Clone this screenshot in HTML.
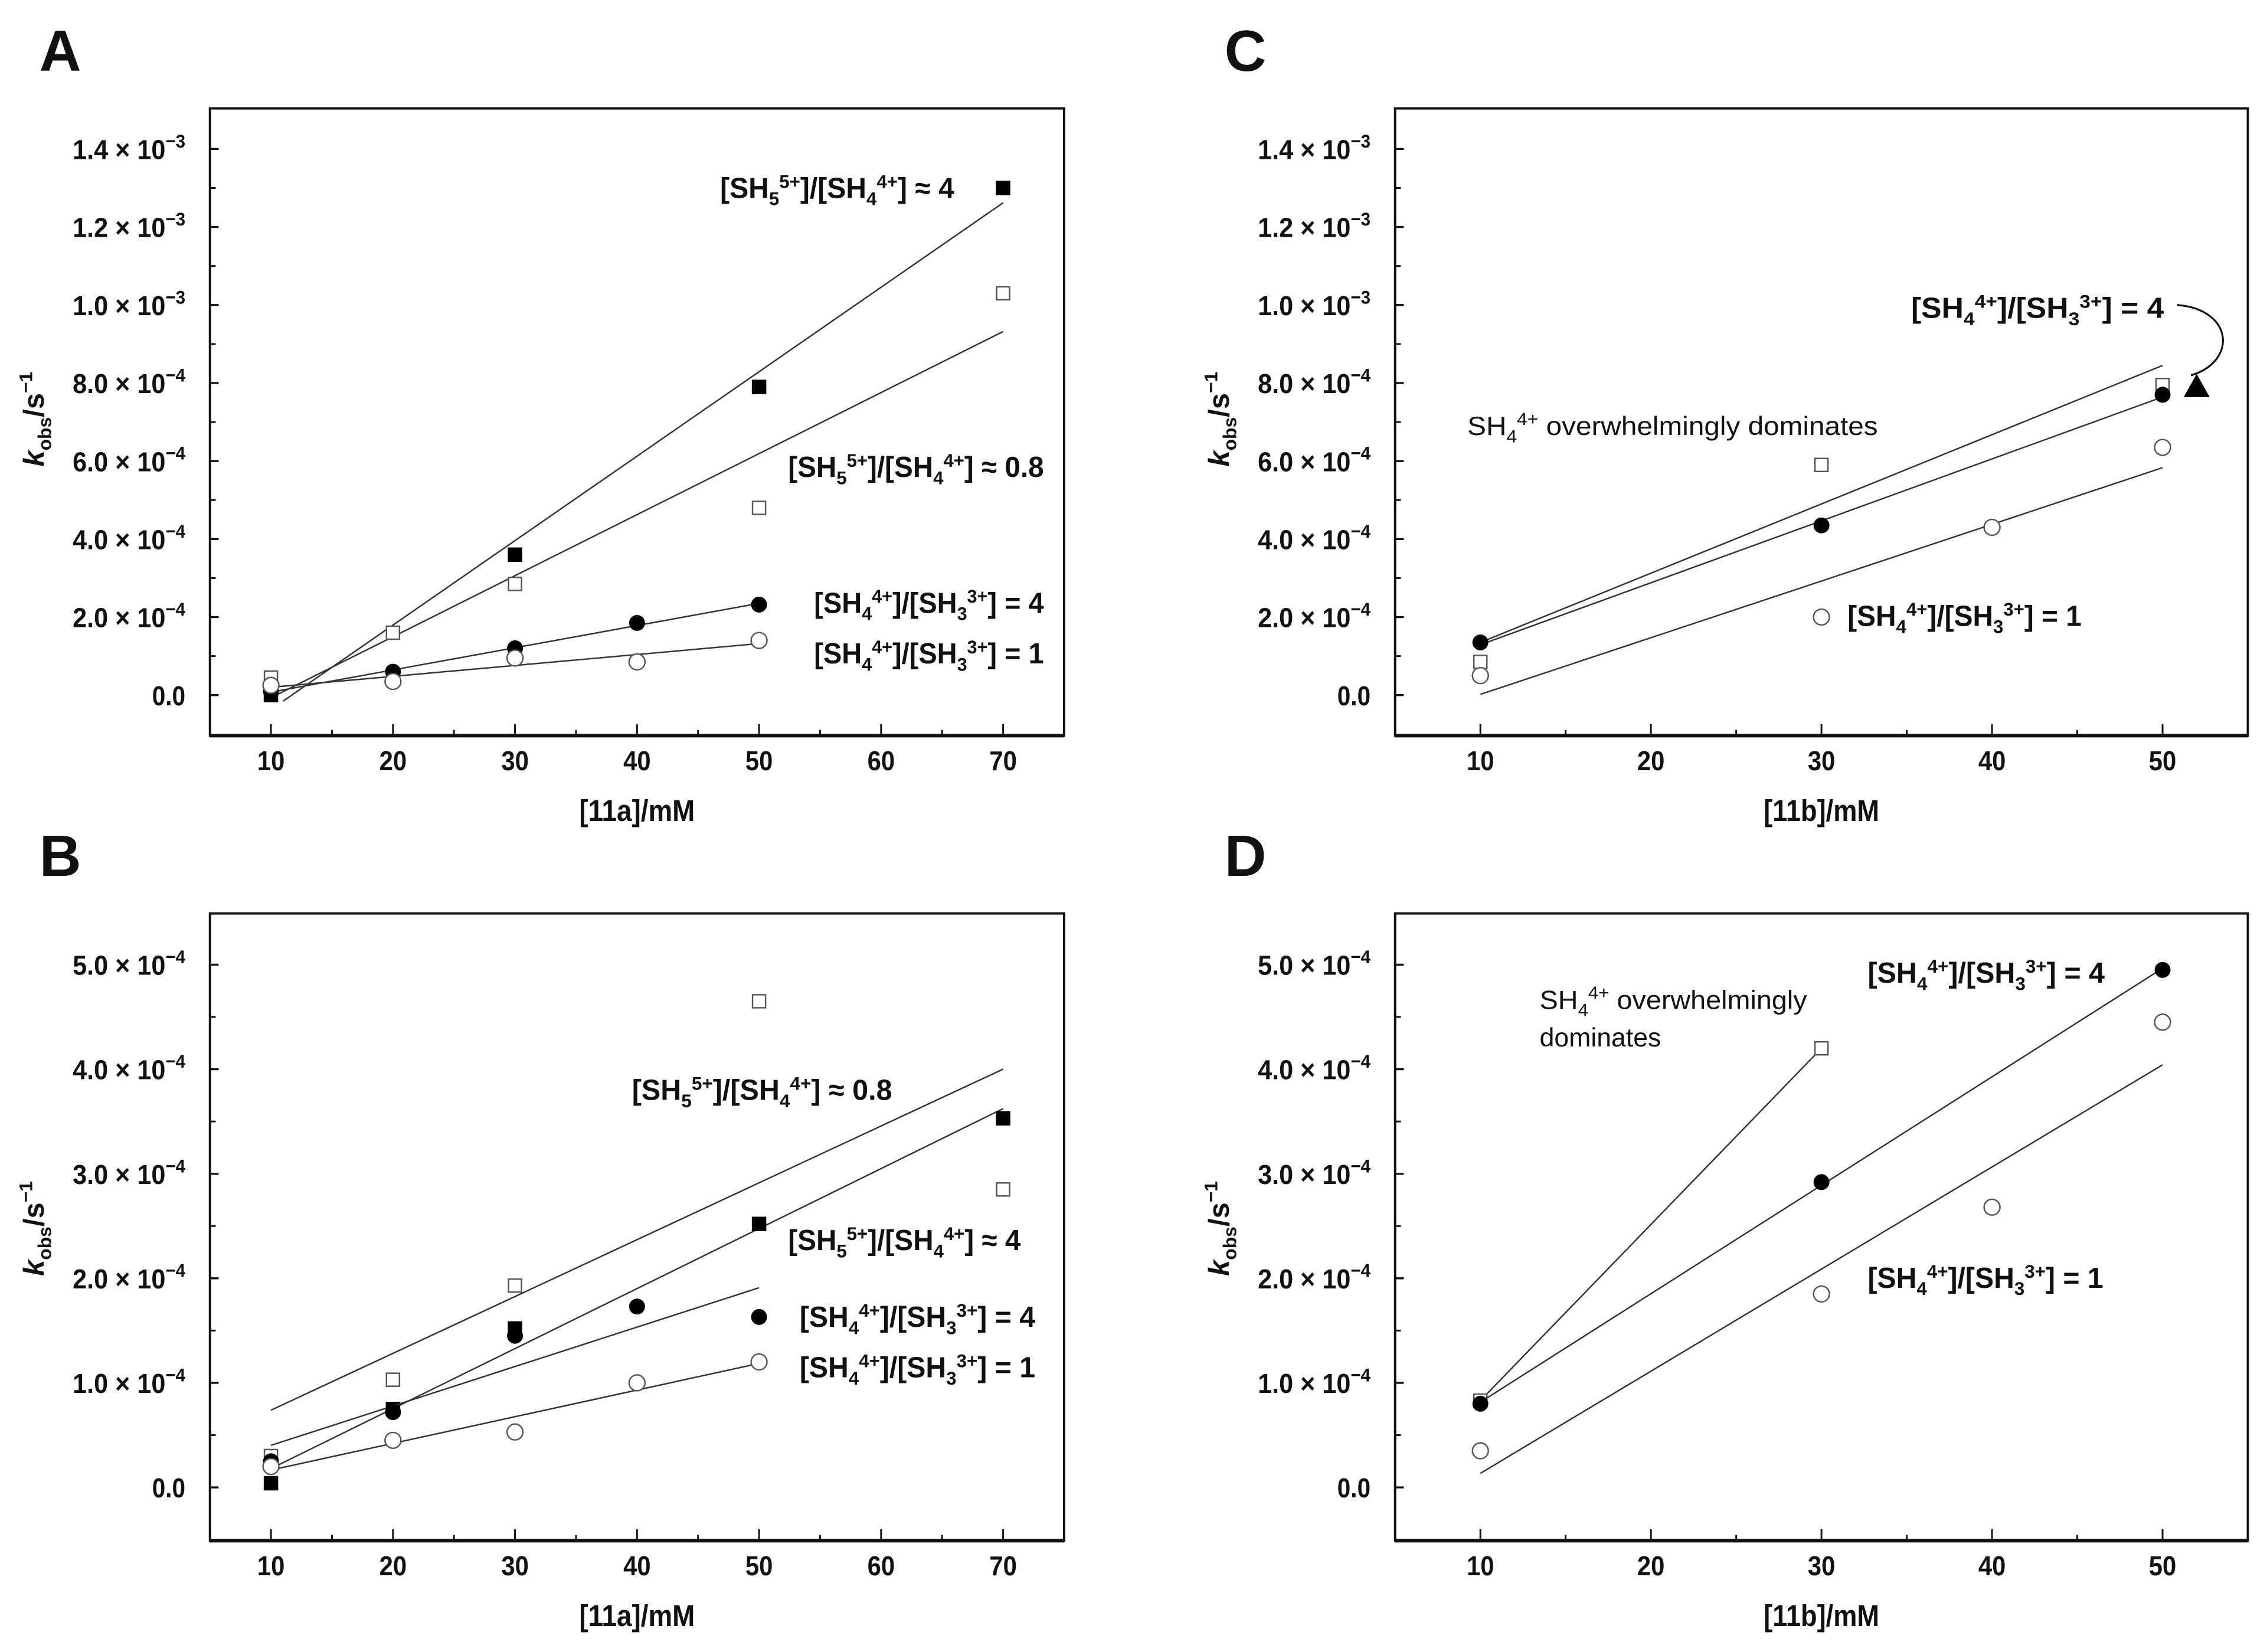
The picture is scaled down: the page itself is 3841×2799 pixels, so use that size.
<!DOCTYPE html>
<html><head><meta charset="utf-8"><style>
html,body{margin:0;padding:0;background:#fff}
svg{display:block}
text{font-family:"Liberation Sans",sans-serif;fill:#111}
</style></head><body>
<svg id="fig" width="3841" height="2799" viewBox="0 0 1568 1143" xmlns="http://www.w3.org/2000/svg"></svg>
<script>
// ---- data (values in units of 1e-4 s^-1) ----
const aFilledSqX = [10,30,50,70];          const aFilledSqY = [0.0,3.6,7.9,13.0];
const aOpenSqX   = [10,20,30,50,70];       const aOpenSqY   = [0.45,1.6,2.85,4.8,10.3];
const aFilledCiX = [10,20,30,40,50];       const aFilledCiY = [0.1,0.6,1.2,1.85,2.32];
const aOpenCiX   = [10,20,30,40,50];       const aOpenCiY   = [0.25,0.35,0.95,0.85,1.4];

const bOpenSqX   = [10,20,30,50,70];       const bOpenSqY   = [0.3,1.03,1.93,4.65,2.85];
const bFilledSqX = [10,20,30,50,70];       const bFilledSqY = [0.04,0.75,1.52,2.52,3.53];
const bFilledCiX = [10,20,30,40,50];       const bFilledCiY = [0.25,0.72,1.45,1.73,1.63];
const bOpenCiX   = [10,20,30,40,50];       const bOpenCiY   = [0.2,0.45,0.53,1.0,1.2];

const cOpenSqX   = [10,30,50];             const cOpenSqY   = [0.85,5.9,7.95];
const cFilledCiX = [10,30,50];             const cFilledCiY = [1.35,4.35,7.7];
const cOpenCiX   = [10,30,40,50];          const cOpenCiY   = [0.5,2.0,4.3,6.35];
const cTriX = [52];                        const cTriY = [7.9];

const dOpenSqX   = [10,30];                const dOpenSqY   = [0.83,4.2];
const dFilledCiX = [10,30,50];             const dFilledCiY = [0.8,2.92,4.95];
const dOpenCiX   = [10,30,40,50];          const dOpenCiY   = [0.35,1.85,2.68,4.45];

const xTicksA = [10,20,30,40,50,60,70];
const xTicksC = [10,20,30,40,50];
const yTicksA = [0,2,4,6,8,10,12,14];
const yTickLabA = ["0.0","2.0 × 10","4.0 × 10","6.0 × 10","8.0 × 10","1.0 × 10","1.2 × 10","1.4 × 10"];
const yTickExpA = ["","−4","−4","−4","−4","−3","−3","−3"];
const yTicksB = [0,1,2,3,4,5];
const yTickLabB = ["0.0","1.0 × 10","2.0 × 10","3.0 × 10","4.0 × 10","5.0 × 10"];
const yTickExpB = ["","−4","−4","−4","−4","−4"];

const NS="http://www.w3.org/2000/svg";
const svg=document.getElementById('fig');
function mk(tag,attrs,parent){const e=document.createElementNS(NS,tag);for(const k in attrs)e.setAttribute(k,attrs[k]);(parent||svg).appendChild(e);return e;}

function makePanel(o){
  const g=mk('g',{});
  
  
  const sx=v=>o.L+(v-o.x0)/(o.x1-o.x0)*(o.R-o.L);
  const sy=v=>o.B-(v-o.y0)/(o.y1-o.y0)*(o.B-o.T);
  const fr=mk('rect',{x:o.L,y:o.T,width:o.R-o.L,height:o.B-o.T,fill:'none',stroke:'#111','stroke-width':1.6},g);
  
  mk('line',{x1:o.L,x2:o.R,y1:o.B,y2:o.B,stroke:'#111','stroke-width':2.4},g);
  for(let v=o.x0;v<=o.x1+1e-9;v+=5){
    const major=o.xt.includes(v);
    mk('line',{x1:sx(v),x2:sx(v),y1:o.B,y2:o.B-(major?8:4),stroke:'#111','stroke-width':1.2},g);
  }
  o.xt.forEach(v=>{const t=mk('text',{x:sx(v),y:o.B+24,'text-anchor':'middle','font-size':19,'font-weight':'bold',textLength:19,lengthAdjust:'spacingAndGlyphs'},g);t.textContent=v;
    });
  for(let i=0;i<o.yt.length;i++){
    const v=o.yt[i];
    mk('line',{x1:o.L,x2:o.L+6,y1:sy(v),y2:sy(v),stroke:'#111','stroke-width':1.4},g);
    if(i<o.yt.length-1){const m=(v+o.yt[i+1])/2;mk('line',{x1:o.L,x2:o.L+4,y1:sy(m),y2:sy(m),stroke:'#111','stroke-width':1.2},g);}
    const at={x:o.L-17,y:sy(v)+7,'text-anchor':'end','font-size':19,'font-weight':'bold'};
    if(o.ye[i]){at.x=o.L-95;at['text-anchor']='start';at.textLength=78;at.lengthAdjust='spacingAndGlyphs';}
    else {at.textLength=23;at.lengthAdjust='spacingAndGlyphs';}
    const t=mk('text',at,g);
    
    const a=mk('tspan',{},t);a.textContent=o.yl[i];
    if(o.ye[i]){const b=mk('tspan',{dy:-8,'font-size':13},t);b.textContent=o.ye[i];}
  }
  const xt=mk('text',{x:(o.L+o.R)/2,y:o.B+59,'text-anchor':'middle','font-size':21,'font-weight':'bold',textLength:80,lengthAdjust:'spacingAndGlyphs'},g);
  xt.textContent=o.xlabel;
  const yc=o.ytitleY, yx=o.L-115;
  const yt=mk('text',{x:0,y:0,'text-anchor':'middle','font-size':20,'font-weight':'bold',transform:`translate(${yx},${yc}) rotate(-90)`},g);
  
  let s=mk('tspan',{'font-style':'italic'},yt);s.textContent='k';
  s=mk('tspan',{dy:5,'font-size':13},yt);s.textContent='obs';
  s=mk('tspan',{dy:-5},yt);s.textContent='/s';
  s=mk('tspan',{dy:-8,'font-size':13},yt);s.textContent='−1';
  const pl=mk('text',{x:o.L-118,y:o.T-26,'font-size':40,'font-weight':'bold'},g);pl.textContent=o.id;
  
  o.series.forEach(se=>{
    const X=se.x,Y=se.y,n=X.length;
    const mx=X.reduce((a,b)=>a+b)/n,my=Y.reduce((a,b)=>a+b)/n;
    let sxy=0,sxx=0;for(let i=0;i<n;i++){sxy+=(X[i]-mx)*(Y[i]-my);sxx+=(X[i]-mx)**2;}
    const k=sxy/sxx,c=my-k*mx;
    const xa=se.fitFrom!==undefined?se.fitFrom:Math.min(...X),xb=Math.max(...X);
    const ln=mk('line',{x1:sx(xa),y1:sy(k*xa+c),x2:sx(xb),y2:sy(k*xb+c),stroke:'#333','stroke-width':1},g);
    
    for(let i=0;i<n;i++){
      const px=sx(X[i]),py=sy(Y[i]);let m;
      if(se.shape==='sq') m=mk('rect',{x:px-4.5,y:py-4.5,width:9,height:9,fill:se.fill?'#000':'#fff',stroke:se.fill?'#000':'#555','stroke-width':1},g);
      else m=mk('circle',{cx:px,cy:py,r:se.fill?5:5.5,fill:se.fill?'#000':'#fff',stroke:se.fill?'#000':'#555','stroke-width':1},g);
      
    }
  });
  return {g,sx,sy};
}

function ratioLabel(g,x,y,a,sa,b,sb,tail,w){
  const t=mk('text',{x:x,y:y,'font-size':20,'font-weight':'bold',textLength:w,lengthAdjust:'spacingAndGlyphs'},g);
  
  const p=(txt,at)=>{const s=mk('tspan',at||{},t);s.textContent=txt;};
  p('[SH');p(a,{dy:5,'font-size':13});p(sa,{dy:-12,'font-size':13});p(']/[SH',{dy:7});
  p(b,{dy:5,'font-size':13});p(sb,{dy:-12,'font-size':13});p('] '+tail,{dy:7});
}
function domLabel(g,x,y,w,second){
  const t=mk('text',{x:x,y:y,'font-size':18,textLength:w,lengthAdjust:'spacingAndGlyphs'},g);
  
  let s=mk('tspan',{},t);s.textContent='SH';
  s=mk('tspan',{dy:5,'font-size':12},t);s.textContent='4';
  s=mk('tspan',{dy:-12,'font-size':12},t);s.textContent='4+';
  s=mk('tspan',{dy:7},t);s.textContent=second;
}

const A=makePanel({id:'A',L:145,R:736,T:75,B:509,x0:5,x1:75,y0:-1.04,y1:15.04,xt:xTicksA,yt:yTicksA,yl:yTickLabA,ye:yTickExpA,xlabel:'[11a]/mM',ytitleY:290,
 series:[{name:'a-filled-square',x:aFilledSqX,y:aFilledSqY,shape:'sq',fill:true,fitFrom:11},
  {name:'a-open-square',x:aOpenSqX,y:aOpenSqY,shape:'sq',fill:false},
  {name:'a-filled-circle',x:aFilledCiX,y:aFilledCiY,shape:'ci',fill:true},
  {name:'a-open-circle',x:aOpenCiX,y:aOpenCiY,shape:'ci',fill:false}]});
ratioLabel(A.g,498,137,'5','5+','4','4+','≈ 4',162);
ratioLabel(A.g,545,330,'5','5+','4','4+','≈ 0.8',177);
ratioLabel(A.g,563,424,'4','4+','3','3+','= 4',159);
ratioLabel(A.g,563,459,'4','4+','3','3+','= 1',159);

const B=makePanel({id:'B',L:145,R:736,T:632,B:1066,x0:5,x1:75,y0:-0.51,y1:5.49,xt:xTicksA,yt:yTicksB,yl:yTickLabB,ye:yTickExpB,xlabel:'[11a]/mM',ytitleY:850,
 series:[{name:'b-open-square',x:bOpenSqX,y:bOpenSqY,shape:'sq',fill:false},
  {name:'b-filled-square',x:bFilledSqX,y:bFilledSqY,shape:'sq',fill:true},
  {name:'b-filled-circle',x:bFilledCiX,y:bFilledCiY,shape:'ci',fill:true},
  {name:'b-open-circle',x:bOpenCiX,y:bOpenCiY,shape:'ci',fill:false}]});
ratioLabel(B.g,437,761,'5','5+','4','4+','≈ 0.8',180);
ratioLabel(B.g,545,865,'5','5+','4','4+','≈ 4',161);
ratioLabel(B.g,553,918,'4','4+','3','3+','= 4',163);
ratioLabel(B.g,553,953,'4','4+','3','3+','= 1',163);

const C=makePanel({id:'C',L:965,R:1555,T:75,B:509,x0:5,x1:55,y0:-1.04,y1:15.04,xt:xTicksC,yt:yTicksA,yl:yTickLabA,ye:yTickExpA,xlabel:'[11b]/mM',ytitleY:290,
 series:[{name:'c-open-square',x:cOpenSqX,y:cOpenSqY,shape:'sq',fill:false},
  {name:'c-filled-circle',x:cFilledCiX,y:cFilledCiY,shape:'ci',fill:true},
  {name:'c-open-circle',x:cOpenCiX,y:cOpenCiY,shape:'ci',fill:false}]});
ratioLabel(C.g,1322,220,'4','4+','3','3+','= 4',175);
ratioLabel(C.g,1278,433,'4','4+','3','3+','= 1',162);
domLabel(C.g,1015,301,284,' overwhelmingly dominates');
cTriX.forEach((v,i)=>{const px=C.sx(v),py=C.sy(cTriY[i]);
  const tr=mk('polygon',{points:`${px},${py-9} ${px-9},${py+7} ${px+9},${py+7}`,fill:'#000'},C.g);
  
  const ar=mk('path',{d:`M1506,211 C1545,214 1548,250 ${px-4},${py-8}`,fill:'none',stroke:'#111','stroke-width':1.3},C.g);
  
});

const D=makePanel({id:'D',L:965,R:1555,T:632,B:1066,x0:5,x1:55,y0:-0.51,y1:5.49,xt:xTicksC,yt:yTicksB,yl:yTickLabB,ye:yTickExpB,xlabel:'[11b]/mM',ytitleY:850,
 series:[{name:'d-open-square',x:dOpenSqX,y:dOpenSqY,shape:'sq',fill:false},
  {name:'d-filled-circle',x:dFilledCiX,y:dFilledCiY,shape:'ci',fill:true},
  {name:'d-open-circle',x:dOpenCiX,y:dOpenCiY,shape:'ci',fill:false}]});
ratioLabel(D.g,1292,680,'4','4+','3','3+','= 4',164);
ratioLabel(D.g,1292,891,'4','4+','3','3+','= 1',163);
domLabel(D.g,1065,698,185,' overwhelmingly');
const dm=mk('text',{x:1065,y:724,'font-size':18,textLength:84,lengthAdjust:'spacingAndGlyphs'},D.g);
dm.textContent='dominates';


</script>
</body></html>
